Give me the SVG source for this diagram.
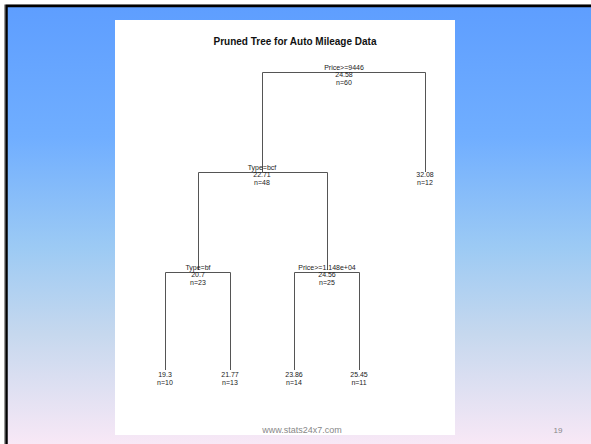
<svg xmlns="http://www.w3.org/2000/svg" width="591" height="444" viewBox="0 0 591 444">
<defs>
<linearGradient id="bg" x1="0" y1="0" x2="0" y2="1">
<stop offset="0" stop-color="#5E9EFF"/>
<stop offset="0.3" stop-color="#70AEFF"/>
<stop offset="0.55" stop-color="#9CCAF4"/>
<stop offset="0.75" stop-color="#C6D8EE"/>
<stop offset="1" stop-color="#F8E8F6"/>
</linearGradient>
<style>
.t{font-family:"Liberation Sans",Arial,sans-serif;font-size:7px;fill:#222;text-anchor:middle}
.e{fill:none;stroke:#555;stroke-width:1}
</style>
</defs>
<rect x="0" y="0" width="591" height="444" fill="#fff"/>
<rect x="7" y="6" width="584" height="438" fill="url(#bg)"/>
<line x1="5" y1="4.5" x2="591" y2="4.5" stroke="#999" stroke-width="1"/>
<line x1="4.5" y1="4.5" x2="4.5" y2="444" stroke="#999" stroke-width="1"/>
<line x1="6" y1="6" x2="591" y2="6" stroke="#000" stroke-width="2.5"/>
<line x1="6.5" y1="5" x2="6.5" y2="444" stroke="#000" stroke-width="2.5"/>
<rect x="115" y="20" width="340" height="415" fill="#fff"/>
<text x="295" y="45" font-family="Liberation Sans,Arial,sans-serif" font-size="10" font-weight="bold" fill="#111" text-anchor="middle">Pruned Tree for Auto Mileage Data</text>
<g id="connectors" class="e">
<path class="e" d="M262.5 172V72.5H425.5V172"/>
<path class="e" d="M198.5 270V172.5H327.5V270"/>
<path class="e" d="M165.5 370V272.5H230.5V370"/>
<path class="e" d="M294.5 370V272.5H359.5V370"/>
</g>
<g id="n1"><text class="t" x="344" y="70">Price&gt;=9446</text><text class="t" x="344" y="77">24.58</text><text class="t" x="344" y="85">n=60</text></g>
<g id="n2"><text class="t" x="262" y="170">Type=bcf</text><text class="t" x="262" y="177">22.71</text><text class="t" x="262" y="185">n=48</text></g>
<g id="n3"><text class="t" x="425" y="177">32.08</text><text class="t" x="425" y="185">n=12</text></g>
<g id="n4"><text class="t" x="198" y="270">Type=bf</text><text class="t" x="198" y="277">20.7</text><text class="t" x="198" y="285">n=23</text></g>
<g id="n5"><text class="t" x="327" y="270">Price&gt;=1.148e+04</text><text class="t" x="327" y="277">24.56</text><text class="t" x="327" y="285">n=25</text></g>
<g id="n6"><text class="t" x="165" y="377">19.3</text><text class="t" x="165" y="385">n=10</text></g>
<g id="n7"><text class="t" x="230" y="377">21.77</text><text class="t" x="230" y="385">n=13</text></g>
<g id="n8"><text class="t" x="294" y="377">23.86</text><text class="t" x="294" y="385">n=14</text></g>
<g id="n9"><text class="t" x="359" y="377">25.45</text><text class="t" x="359" y="385">n=11</text></g>
<text x="302" y="433" font-family="Liberation Sans,Arial,sans-serif" font-size="9" fill="#888" text-anchor="middle">www.stats24x7.com</text>
<text x="558" y="433" font-family="Liberation Sans,Arial,sans-serif" font-size="8" fill="#888" text-anchor="middle">19</text>
</svg>
